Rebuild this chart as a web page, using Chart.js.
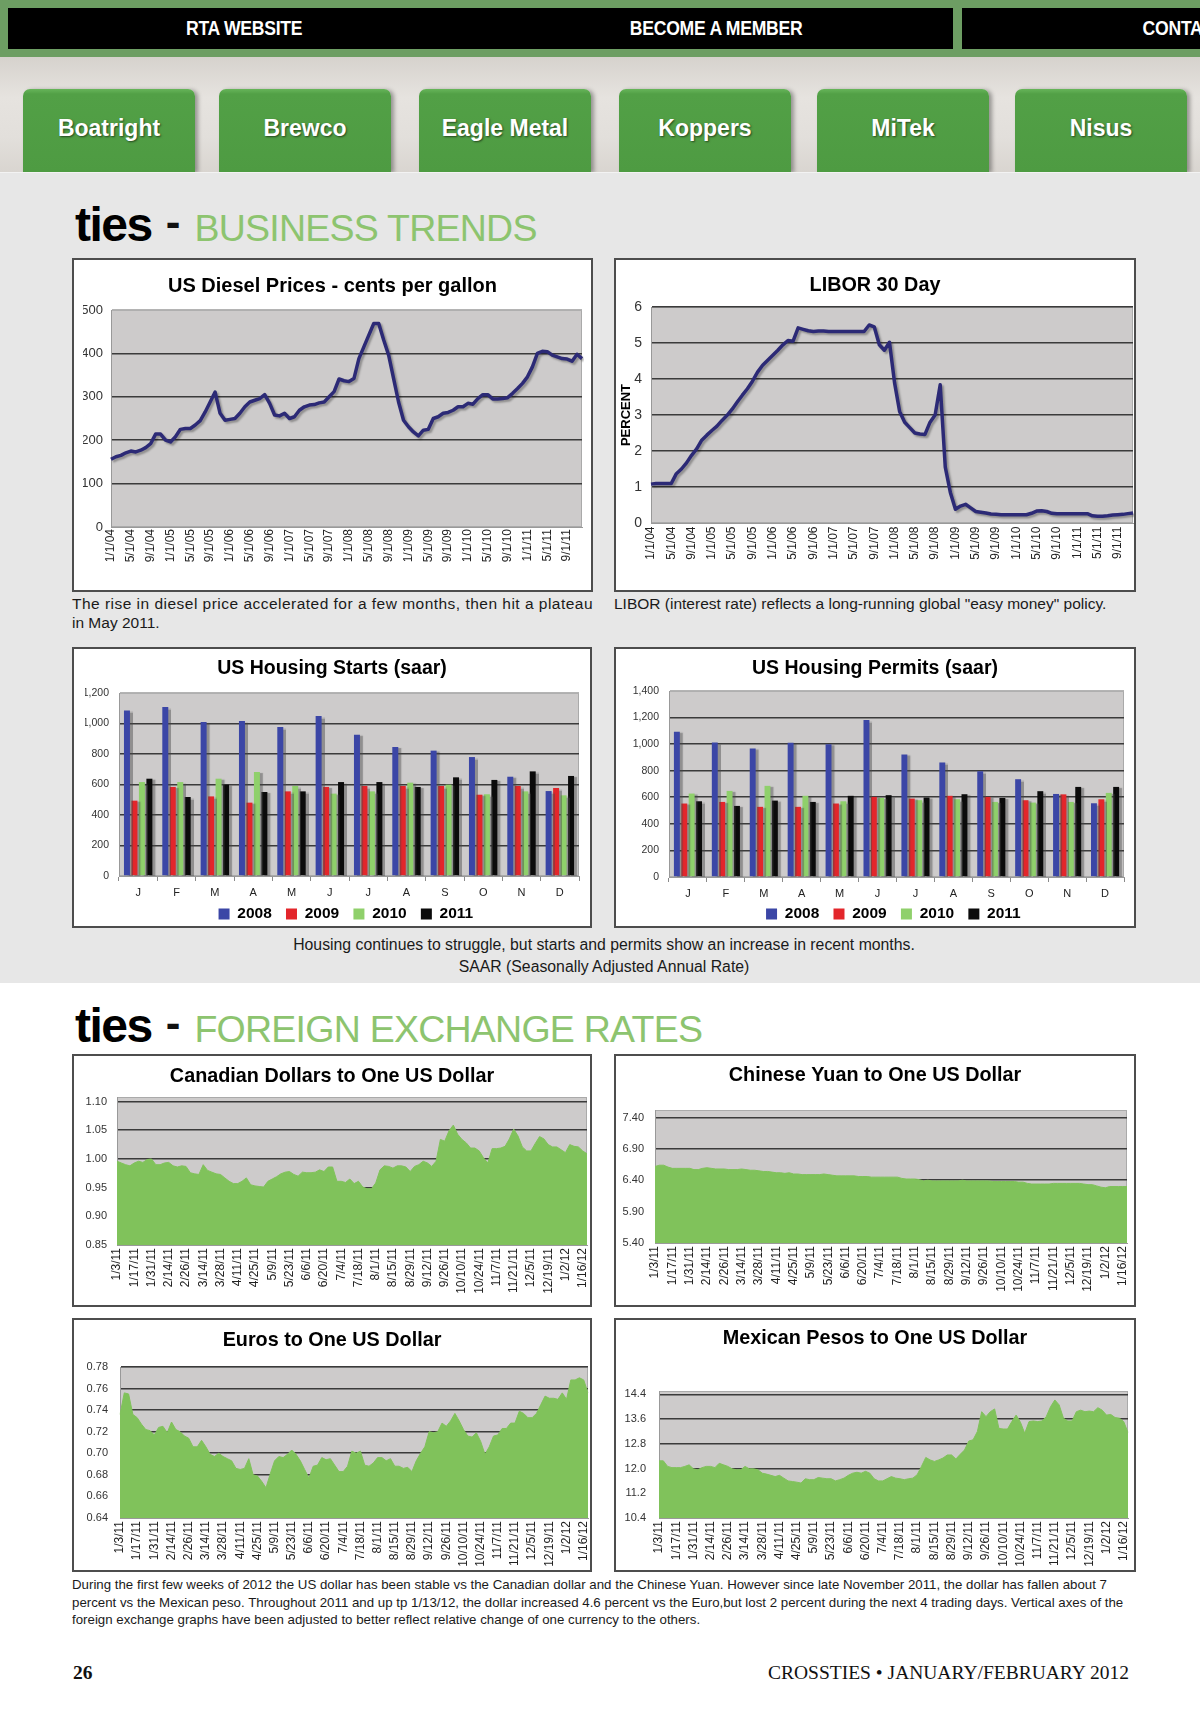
<!DOCTYPE html>
<html lang="en">
<head>
<meta charset="utf-8">
<title>ties - Business Trends / Foreign Exchange Rates</title>
<script src="https://cdn.jsdelivr.net/npm/chart.js@4.4.1/dist/chart.umd.min.js"></script>
<style>
  html, body { margin: 0; padding: 0; }
  body { width: 1200px; height: 1729px; position: relative; overflow: hidden; background: #fff;
         font-family: "Liberation Sans", Arial, Helvetica, sans-serif; color: #111; }
  #navbar { position: absolute; left: 0; top: 0; width: 1200px; height: 57px; background: #6d9e63; }
  .navbtn { position: absolute; top: 8px; height: 41px; width: 473px; background: #000; color: #fff;
            font-weight: bold; font-size: 20px; line-height: 41px; text-align: center; white-space: nowrap; }
  .navbtn span { display: inline-block; transform: scaleX(0.88); letter-spacing: -0.3px; }
  #marble { position: absolute; left: 0; top: 57px; width: 1200px; height: 115px;
            background: linear-gradient(180deg, #d6d2cd 0%, #e6e3df 35%, #e2dfdb 70%, #d9d5d0 100%); }
  .tab { position: absolute; top: 89px; height: 83px; width: 172px; border-radius: 7px 7px 0 0;
         background: linear-gradient(180deg, #67b55a 0px, #52a046 5px, #4e9b42 100%);
         color: #fff; font-weight: bold; font-size: 23px; line-height: 78px; text-align: center;
         text-shadow: 1px 1px 2px rgba(0,0,0,0.55); box-shadow: 3px 1px 4px rgba(0,0,0,0.35); }
  #graybg { position: absolute; left: 0; top: 172px; width: 1200px; height: 810px; background: #e7e7e7;
            border-top: 1px solid #f3f3f3; }
  .heading { position: absolute; left: 75px; height: 48px; line-height: 48px; font-size: 48px; white-space: nowrap; }
  .heading .ties { font-weight: bold; letter-spacing: -1.5px; color: #000; }
  .heading .dash { font-weight: bold; font-size: 44px; margin-left: 14px; position: relative; top: -4px; }
  .heading .sect { font-size: 37.5px; color: #8dc46f; letter-spacing: -0.75px; margin-left: 14px; }
  .box { position: absolute; background: #fff; border: 2px solid #4d4d4d; box-sizing: border-box; }
  .box canvas { display: block; }
  .caption { position: absolute; font-size: 15.5px; line-height: 19px; color: #1a1a1a; white-space: nowrap; }
  #fxnote { position: absolute; left: 72px; top: 1576px; font-size: 13.5px; line-height: 17.5px;
            color: #1a1a1a; white-space: nowrap; transform-origin: left top; }
  .footer { position: absolute; top: 1661px; font-size: 19.5px; line-height: 24px;
            font-family: "Liberation Serif", "Times New Roman", serif; color: #111; }
</style>
</head>
<body>

<div id="navbar">
  <div class="navbtn" style="left:8px"><span>RTA WEBSITE</span></div>
  <div class="navbtn" style="left:480px"><span>BECOME A MEMBER</span></div>
  <div class="navbtn" style="left:962px"><span>CONTACT US</span></div>
</div>
<div id="marble"></div>
<div class="tab" style="left:23px">Boatright</div>
<div class="tab" style="left:219px">Brewco</div>
<div class="tab" style="left:419px">Eagle Metal</div>
<div class="tab" style="left:619px">Koppers</div>
<div class="tab" style="left:817px">MiTek</div>
<div class="tab" style="left:1015px">Nisus</div>
<div id="graybg"></div>

<div class="heading" style="top:201px"><span class="ties">ties</span><span class="dash">-</span><span class="sect">BUSINESS TRENDS</span></div>

<div class="box" style="left:72px; top:258px; width:521px; height:334px"><canvas id="dieselChart" width="517" height="330"></canvas></div>
<div class="box" style="left:614px; top:258px; width:522px; height:334px"><canvas id="liborChart" width="518" height="330"></canvas></div>

<div class="caption" style="left:72px; top:594px; width:521px">
  <div><span id="dieselLine1">The rise in diesel price accelerated for a few months, then hit a plateau</span></div>
  <div>in May 2011.</div>
</div>
<div class="caption" style="left:614px; top:594px; width:522px">LIBOR (interest rate) reflects a long-running global "easy money" policy.</div>

<div class="box" style="left:72px; top:647px; width:520px; height:281px"><canvas id="startsChart" width="516" height="277"></canvas></div>
<div class="box" style="left:614px; top:647px; width:522px; height:281px"><canvas id="permitsChart" width="518" height="277"></canvas></div>

<div class="caption" style="left:72px; top:934px; width:1064px; text-align:center; line-height:22px; font-size:15.8px">
  Housing continues to struggle, but starts and permits show an increase in recent months.<br>
  SAAR (Seasonally Adjusted Annual Rate)
</div>

<div class="heading" style="top:1002px"><span class="ties">ties</span><span class="dash">-</span><span class="sect">FOREIGN EXCHANGE RATES</span></div>

<div class="box" style="left:72px; top:1054px; width:520px; height:253px"><canvas id="cadChart" width="516" height="249"></canvas></div>
<div class="box" style="left:614px; top:1054px; width:522px; height:253px"><canvas id="cnyChart" width="518" height="249"></canvas></div>
<div class="box" style="left:72px; top:1318px; width:520px; height:254px"><canvas id="eurChart" width="516" height="250"></canvas></div>
<div class="box" style="left:614px; top:1318px; width:522px; height:254px"><canvas id="mxnChart" width="518" height="250"></canvas></div>

<div id="fxnote">
  <span id="fxline1">During the first few weeks of 2012 the US dollar has been stable vs the Canadian dollar and the Chinese Yuan. However since late November 2011, the dollar has fallen about 7</span><br>
  percent vs the Mexican peso. Throughout 2011 and up tp 1/13/12, the dollar increased 4.6 percent vs the Euro,but lost 2 percent during the next 4 trading days. Vertical axes of the<br>
  foreign exchange graphs have been adjusted to better reflect relative change of one currency to the others.
</div>

<div class="footer" style="left:73px; font-weight:bold">26</div>
<div class="footer" style="right:71px">CROSSTIES &bull; JANUARY/FEBRUARY 2012</div>

<script>
// ---- data ----
const monthTicks = ['1/1/04','5/1/04','9/1/04','1/1/05','5/1/05','9/1/05','1/1/06','5/1/06','9/1/06',
  '1/1/07','5/1/07','9/1/07','1/1/08','5/1/08','9/1/08','1/1/09','5/1/09','9/1/09',
  '1/1/10','5/1/10','9/1/10','1/1/11','5/1/11','9/1/11'];

// US diesel, cents per gallon, monthly Jan 2004 - Dec 2011
const dieselPrices = [
  156,162,165,171,175,173,177,183,192,214,214,200,
  196,208,225,227,227,235,245,265,288,311,262,246,
  248,250,262,277,288,292,296,305,285,258,256,262,
  250,254,269,277,281,282,286,288,300,312,341,337,
  335,342,388,415,442,469,469,431,396,342,288,246,
  231,219,210,223,225,250,254,262,264,269,277,277,
  285,283,296,305,305,295,295,296,298,308,319,331,
  346,369,400,405,404,396,392,388,387,382,398,388];

// LIBOR 30 day, percent, monthly Jan 2004 - Dec 2011
const liborRates = [
  1.08,1.1,1.1,1.1,1.1,1.37,1.5,1.67,1.88,2.06,2.3,2.44,
  2.57,2.69,2.85,2.99,3.16,3.36,3.55,3.73,3.94,4.19,4.38,4.52,
  4.66,4.8,4.95,5.07,5.05,5.42,5.38,5.34,5.32,5.33,5.33,5.32,
  5.32,5.32,5.32,5.32,5.32,5.32,5.32,5.5,5.45,4.95,4.8,5.02,
  3.9,3.1,2.8,2.65,2.5,2.47,2.46,2.8,3.0,3.84,1.55,0.85,
  0.38,0.47,0.52,0.42,0.32,0.3,0.28,0.25,0.24,0.23,0.23,0.23,
  0.23,0.23,0.23,0.27,0.33,0.34,0.32,0.27,0.26,0.26,0.26,0.26,
  0.26,0.26,0.26,0.2,0.19,0.19,0.2,0.22,0.23,0.24,0.26,0.28];

const months = ['J','F','M','A','M','J','J','A','S','O','N','D'];
const years = ['2008','2009','2010','2011'];
const yearColors = ['#3b46a6','#e3262b','#8fd06b','#0b0b0b'];

const starts2008 = [1086,1108,1010,1016,977,1049,927,846,822,780,651,557];
const starts2009 = [494,584,522,481,555,584,590,590,590,533,590,577];
const starts2010 = [616,616,638,682,590,540,555,612,599,536,555,529];
const starts2011 = [638,518,599,551,555,616,616,584,647,630,686,656];

const permits2008 = [1093,1013,967,1010,1000,1181,922,862,796,736,625,555];
const permits2009 = [553,565,528,528,553,603,590,611,603,578,622,585];
const permits2010 = [628,648,686,611,570,595,578,585,565,560,565,633];
const permits2011 = [570,535,575,565,611,616,598,623,595,646,678,678];

const fxTicks = ['1/3/11','1/17/11','1/31/11','2/14/11','2/26/11','3/14/11','3/28/11','4/11/11',
  '4/25/11','5/9/11','5/23/11','6/6/11','6/20/11','7/4/11','7/18/11','8/1/11','8/15/11','8/29/11',
  '9/12/11','9/26/11','10/10/11','10/24/11','11/7/11','11/21/11','12/5/11','12/19/11','1/2/12','1/16/12'];

// four readings between each pair of date labels
const cadRates = [
  0.996,0.993,0.990,0.988, 0.993,0.996,0.994,0.999, 1.000,0.990,0.990,0.993, 0.994,0.988,0.986,0.988,
  0.987,0.976,0.974,0.973, 0.990,0.980,0.977,0.974, 0.973,0.967,0.961,0.957, 0.957,0.961,0.967,0.955,
  0.953,0.952,0.951,0.961, 0.965,0.969,0.974,0.977, 0.978,0.973,0.970,0.977, 0.976,0.976,0.977,0.981,
  0.978,0.986,0.986,0.961, 0.961,0.959,0.965,0.957, 0.961,0.951,0.948,0.948, 0.958,0.981,0.988,0.987,
  0.984,0.988,0.988,0.986, 0.978,0.987,0.990,0.996, 0.993,0.987,0.996,1.034, 1.031,1.049,1.059,1.043,
  1.034,1.028,1.019,1.019, 1.014,1.002,0.993,1.018, 1.018,1.019,1.022,1.035, 1.052,1.040,1.021,1.014,
  1.014,1.027,1.039,1.035, 1.025,1.021,1.021,1.016, 1.011,1.025,1.022,1.021, 1.014,1.009];

const cnyRates = [
  6.62,6.64,6.64,6.61, 6.59,6.59,6.59,6.59, 6.59,6.57,6.57,6.59, 6.60,6.59,6.58,6.58,
  6.58,6.57,6.57,6.57, 6.58,6.57,6.56,6.56, 6.55,6.54,6.54,6.53, 6.52,6.52,6.51,6.52,
  6.50,6.50,6.49,6.49, 6.49,6.49,6.49,6.50, 6.49,6.48,6.47,6.47, 6.47,6.47,6.47,6.46,
  6.46,6.46,6.45,6.45, 6.45,6.45,6.45,6.45, 6.45,6.43,6.42,6.42, 6.42,6.41,6.39,6.40,
  6.39,6.39,6.39,6.39, 6.39,6.39,6.39,6.40, 6.39,6.39,6.39,6.39, 6.39,6.39,6.38,6.38,
  6.38,6.38,6.38,6.38, 6.37,6.37,6.35,6.34, 6.34,6.34,6.34,6.34, 6.35,6.35,6.35,6.35,
  6.35,6.35,6.35,6.34, 6.33,6.33,6.31,6.29, 6.28,6.30,6.30,6.30, 6.30,6.30];

const eurRates = [
  0.736,0.756,0.755,0.736, 0.733,0.727,0.722,0.721, 0.717,0.724,0.725,0.719, 0.729,0.722,0.720,0.716,
  0.714,0.706,0.706,0.712, 0.706,0.699,0.697,0.700, 0.697,0.695,0.693,0.686, 0.685,0.686,0.695,0.680,
  0.679,0.674,0.668,0.681, 0.693,0.697,0.696,0.699, 0.703,0.699,0.693,0.685, 0.677,0.688,0.689,0.696,
  0.694,0.695,0.689,0.683, 0.683,0.688,0.702,0.700, 0.702,0.689,0.688,0.691, 0.696,0.696,0.693,0.695,
  0.688,0.688,0.686,0.687, 0.683,0.693,0.700,0.706, 0.720,0.719,0.720,0.728, 0.725,0.730,0.737,0.730,
  0.722,0.716,0.715,0.719, 0.711,0.699,0.706,0.716, 0.717,0.723,0.723,0.728, 0.728,0.739,0.737,0.733,
  0.733,0.737,0.745,0.753, 0.751,0.751,0.750,0.756, 0.750,0.768,0.768,0.770, 0.768,0.756];

const mxnRates = [
  12.25,12.25,12.07,12.03, 12.03,12.03,12.07,12.12, 11.99,11.96,12.03,12.07, 12.07,12.03,12.17,12.12,
  12.07,11.99,11.96,11.96, 12.07,11.99,11.99,11.96, 11.85,11.82,11.78,11.74, 11.78,11.69,11.60,11.58,
  11.56,11.53,11.67,11.64, 11.64,11.71,11.69,11.67, 11.67,11.60,11.64,11.69, 11.78,11.85,11.88,11.85,
  11.91,11.85,11.67,11.60, 11.60,11.67,11.74,11.69, 11.67,11.64,11.67,11.69, 11.80,12.07,12.36,12.28,
  12.23,12.28,12.34,12.44, 12.44,12.31,12.46,12.60, 12.89,12.93,13.20,13.84, 13.68,13.84,13.93,13.30,
  13.28,13.28,13.52,13.73, 13.50,13.14,13.52,13.54, 13.52,13.54,13.68,14.00, 14.22,14.06,13.63,13.54,
  13.54,13.84,13.89,13.84, 13.86,13.84,13.97,13.89, 13.73,13.75,13.65,13.63, 13.52,13.17];

const dieselAxis = [0,100,200,300,400,500];
const liborAxis = [0,1,2,3,4,5,6];
const startsAxis = [0,200,400,600,800,1000,1200];
const permitsAxis = [0,200,400,600,800,1000,1200,1400];
const cadAxis = [0.85,0.90,0.95,1.00,1.05,1.10];
const cnyAxis = [5.40,5.90,6.40,6.90,7.40];
const eurAxis = [0.64,0.66,0.68,0.70,0.72,0.74,0.76,0.78];
const mxnAxis = [10.4,11.2,12.0,12.8,13.6,14.4];

// ---- helpers ----
const FONT = '"Liberation Sans", Arial, Helvetica, sans-serif';
Chart.defaults.font.family = FONT;

function spreadLabels(ticks, count, step) {
  const out = [];
  for (let i = 0; i < count; i++) {
    out.push(i % step === 0 && ticks[i / step] !== undefined ? ticks[i / step] : '');
  }
  return out;
}

// gray plot area behind the grid
const plotBackground = {
  id: 'plotBackground',
  beforeDraw(chart) {
    const {ctx, chartArea: a} = chart;
    ctx.save();
    ctx.fillStyle = '#cdcbcb';
    ctx.fillRect(a.left, a.top, a.width, a.height);
    ctx.strokeStyle = '#aaa';
    ctx.lineWidth = 1;
    ctx.strokeRect(a.left + 0.5, a.top + 0.5, a.width - 1, a.height - 1);
    ctx.restore();
  }
};

function shadow(id, dx, dy, blur, color) {
  return {
    id,
    beforeDatasetsDraw(chart) {
      const ctx = chart.ctx;
      ctx.save();
      ctx.shadowColor = color;
      ctx.shadowOffsetX = dx;
      ctx.shadowOffsetY = dy;
      ctx.shadowBlur = blur;
    },
    afterDatasetsDraw(chart) { chart.ctx.restore(); }
  };
}
const lineShadow = shadow('lineShadow', 2, 2, 2, 'rgba(0,0,0,0.3)');
const barShadow = shadow('barShadow', 3, 1, 1, 'rgba(70,70,70,0.45)');

function titleBlock(text, size, center, plotTop) {
  const lh = size * 1.2;
  return {
    display: true, text, color: '#000',
    font: {family: FONT, size, weight: 'bold', lineHeight: 1.2},
    padding: {top: center - lh / 2, bottom: plotTop - center - lh / 2}
  };
}

// o.width is the distance from the canvas edge to the plot, o.inset the matching right margin
function valueAxis(o) {
  const last = o.ticks.length - 1;
  return {
    min: o.ticks[0], max: o.max,
    afterFit: s => { s.width = o.width - o.inset; },
    afterBuildTicks: s => { s.ticks = o.ticks.map(v => ({value: v})); },
    border: {display: true, color: '#999', width: 1},
    grid: {
      drawTicks: false, lineWidth: 1.6,
      color: c => c.index === 0 ? 'rgba(0,0,0,0)' : (o.lightTop && c.index === last ? '#b4b4b4' : '#3b3b3b')
    },
    title: o.title ? {display: true, text: o.title, color: '#000',
      font: {family: FONT, size: 13, weight: 'bold'}, padding: {top: 3 - o.inset, bottom: 0}} : {display: false},
    ticks: {padding: o.pad, color: '#333', font: {family: FONT, size: o.font}, callback: o.format}
  };
}

function dateAxis(height, pad) {
  return {
    afterFit: s => { s.height = height; s.paddingLeft = 0; s.paddingRight = 0; },
    border: {display: true, color: '#999', width: 1},
    grid: {display: false, drawTicks: false},
    ticks: {autoSkip: false, minRotation: 90, maxRotation: 90, padding: pad, color: '#222',
            font: {family: FONT, size: 12}}
  };
}

function lineChart(id, o) {
  const ctx = document.getElementById(id).getContext('2d');
  o.y.inset = o.right;
  return new Chart(ctx, {
    type: 'line',
    data: {labels: o.labels, datasets: [o.dataset]},
    options: {
      responsive: false, animation: false,
      layout: {padding: {left: o.right, top: 0, right: o.right, bottom: 0}},
      plugins: {
        legend: {display: false}, tooltip: {enabled: false},
        title: titleBlock(o.title, o.titleSize, o.titleCenter, o.top)
      },
      scales: {x: dateAxis(o.bottom, o.xPad), y: valueAxis(o.y)}
    },
    plugins: o.shadow ? [plotBackground, o.shadow] : [plotBackground]
  });
}

// legend sits at the bottom: text centre 12px above the canvas edge
const LEGEND_PAD = 8;
const LEGEND_FONT = 15.5;
const LEGEND_H = LEGEND_PAD + LEGEND_FONT / 2 + 12;

function barChart(id, o) {
  const ctx = document.getElementById(id).getContext('2d');
  const datasets = o.series.map((values, i) => ({
    label: years[i], data: values, backgroundColor: yearColors[i], borderWidth: 0,
    categoryPercentage: 0.78, barPercentage: 0.8
  }));
  return new Chart(ctx, {
    type: 'bar',
    data: {labels: months, datasets},
    options: {
      responsive: false, animation: false,
      layout: {padding: {left: o.right, top: 0, right: o.right, bottom: 0}},
      plugins: {
        tooltip: {enabled: false},
        title: titleBlock(o.title, 19.5, 20, o.top),
        legend: {
          position: 'bottom', fullSize: false, maxHeight: LEGEND_H,
          labels: {
            boxWidth: 11, boxHeight: 11, padding: LEGEND_PAD, color: '#000',
            font: {family: FONT, size: LEGEND_FONT, weight: 'bold'},
            // a little extra room after each year, as in the print
            generateLabels: chart => Chart.defaults.plugins.legend.labels.generateLabels(chart)
              .map(item => Object.assign(item, {text: item.text + '\u2009\u2009'}))
          }
        }
      },
      scales: {
        x: {
          afterFit: s => { s.height = o.bottom - LEGEND_H; },
          border: {display: true, color: '#999', width: 1},
          grid: {offset: true, drawOnChartArea: false, tickLength: 5, color: '#8a8a8a'},
          ticks: {padding: 5, color: '#222', font: {family: FONT, size: 11}}
        },
        y: valueAxis({ticks: o.ticks, max: o.ticks[o.ticks.length - 1], width: o.left, inset: o.right,
                      pad: 10, font: 10.5, lightTop: true, format: v => v.toLocaleString('en-US')})
      }
    },
    plugins: [plotBackground, barShadow]
  });
}

function fxChart(id, o) {
  return lineChart(id, {
    labels: spreadLabels(fxTicks, o.data.length, 4),
    dataset: {data: o.data, fill: 'start', backgroundColor: '#80c25b', borderColor: '#80c25b',
              borderWidth: 1, pointRadius: 0, tension: 0},
    title: o.title, titleSize: 19.8, titleCenter: o.titleCenter, top: o.top, right: o.right,
    bottom: o.bottom, xPad: 3,
    y: {ticks: o.ticks, max: o.max, width: o.left, pad: o.pad, font: 11, lightTop: false,
        format: v => v.toFixed(o.digits)}
  });
}

document.addEventListener('DOMContentLoaded', () => {
  // Diesel
  lineChart('dieselChart', {
    labels: spreadLabels(monthTicks, dieselPrices.length, 4),
    dataset: {data: dieselPrices, borderColor: '#2c2a76', borderWidth: 3.5, pointRadius: 0,
              tension: 0, fill: false, borderJoinStyle: 'round'},
    title: 'US Diesel Prices - cents per gallon', titleSize: 20, titleCenter: 26, top: 50,
    right: 9, bottom: 63, xPad: 2, shadow: lineShadow,
    y: {ticks: dieselAxis, max: 500, width: 37, pad: 8, font: 13, lightTop: true, format: v => v}
  });

  // LIBOR
  lineChart('liborChart', {
    labels: spreadLabels(monthTicks, liborRates.length, 4),
    dataset: {data: liborRates, borderColor: '#2c2a76', borderWidth: 3.5, pointRadius: 0,
              tension: 0, fill: false, borderJoinStyle: 'round'},
    title: 'LIBOR 30 Day', titleSize: 19.8, titleCenter: 26, top: 47,
    right: 1, bottom: 67, xPad: 3.5, shadow: lineShadow,
    y: {ticks: liborAxis, max: 6, width: 35, pad: 9, font: 14, lightTop: false, title: 'PERCENT', format: v => v}
  });

  // Housing
  barChart('startsChart', {
    title: 'US Housing Starts (saar)', series: [starts2008, starts2009, starts2010, starts2011],
    ticks: startsAxis, top: 44, left: 45, right: 11, bottom: 50
  });
  barChart('permitsChart', {
    title: 'US Housing Permits (saar)', series: [permits2008, permits2009, permits2010, permits2011],
    ticks: permitsAxis, top: 42, left: 53, right: 10, bottom: 49
  });

  // Foreign exchange
  fxChart('cadChart', {title: 'Canadian Dollars to One US Dollar', data: cadRates, ticks: cadAxis,
    max: 1.108, digits: 2, titleCenter: 21, top: 41, left: 43, right: 3, bottom: 60, pad: 10});
  fxChart('cnyChart', {title: 'Chinese Yuan to One US Dollar', data: cnyRates, ticks: cnyAxis,
    max: 7.52, digits: 2, titleCenter: 20, top: 54, left: 39, right: 7, bottom: 62, pad: 11});
  fxChart('eurChart', {title: 'Euros to One US Dollar', data: eurRates, ticks: eurAxis,
    max: 0.78, digits: 2, titleCenter: 21, top: 47, left: 46, right: 2, bottom: 52, pad: 12});
  fxChart('mxnChart', {title: 'Mexican Pesos to One US Dollar', data: mxnRates, ticks: mxnAxis,
    max: 14.51, digits: 1, titleCenter: 19, top: 71, left: 43, right: 6, bottom: 52, pad: 13});

  // spread the first diesel caption line over the box width with even letter spacing
  const dieselLine = document.getElementById('dieselLine1');
  const spare = 521 - dieselLine.getBoundingClientRect().width;
  dieselLine.style.letterSpacing = (spare / dieselLine.textContent.length) + 'px';

  // narrow the note so the first line spans the page like the print
  const note = document.getElementById('fxnote');
  const firstLine = document.getElementById('fxline1');
  const scale = 1035 / firstLine.getBoundingClientRect().width;
  note.style.transform = 'scaleX(' + scale + ')';
});
</script>
</body>
</html>
